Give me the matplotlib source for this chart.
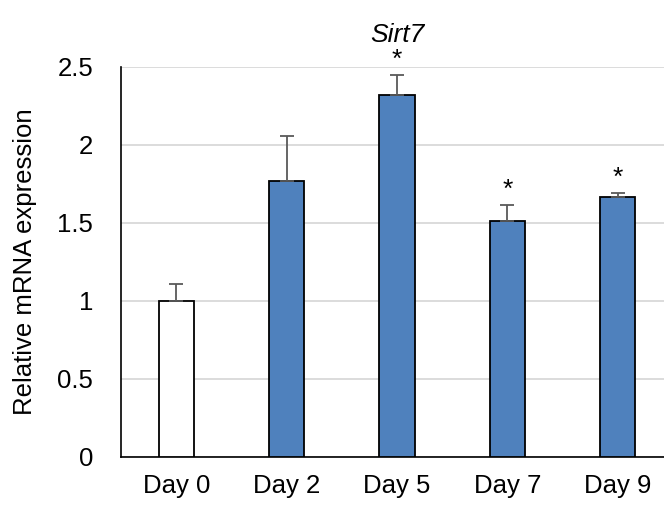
import numpy as np
import matplotlib
import matplotlib.pyplot as plt

days = ['Day 0', 'Day 2', 'Day 5', 'Day 7', 'Day 9']
expr = [1.0, 1.77, 2.32, 1.515, 1.665]
err = [0.11, 0.29, 0.13, 0.10, 0.025]
signif = ['', '', '*', '*', '*']

plt.rcParams['font.family'] = ['Liberation Sans', 'DejaVu Sans']

fig = plt.figure(figsize=(6.64, 5.09), dpi=100)
ax = fig.add_axes([121/664, 52/509, 552/664, 390/509])

x = np.arange(len(days))
colors = ['white'] + ['#4f81bd'] * 4
ax.bar(x, expr, width=0.32, color=colors, edgecolor='black', linewidth=1.3, zorder=3)
ax.errorbar(x, expr, yerr=[np.zeros(len(err)), err], fmt='none', ecolor='#595959',
            elinewidth=1.3, capsize=5, capthick=1.3, zorder=4)

for i, s in enumerate(signif):
    if s:
        ax.text(x[i], expr[i] + err[i] + 0.02, s, ha='center', va='bottom', fontsize=19)

ax.set_xlim(-0.5, 4.5)
ax.set_ylim(0, 2.5)
ax.set_yticks([0, 0.5, 1, 1.5, 2, 2.5])
ax.set_yticklabels(['0', '0.5', '1', '1.5', '2', '2.5'])
ax.set_xticks(x)
ax.set_xticklabels(days)
ax.tick_params(axis='both', length=0, labelsize=18.5)
ax.tick_params(axis='y', pad=20)
ax.tick_params(axis='x', pad=12)
ax.yaxis.grid(True, color='#d9d9d9', linewidth=1.3, zorder=0)
for side in ['top', 'right']:
    ax.spines[side].set_visible(False)
ax.spines['left'].set_linewidth(1.2)
ax.spines['bottom'].set_linewidth(1.2)
ax.set_ylabel('Relative mRNA expression', fontsize=18.5, labelpad=15)
ax.set_title('Sirt7', fontsize=19, style='italic', pad=18)

plt.savefig('out.png', dpi=100)
